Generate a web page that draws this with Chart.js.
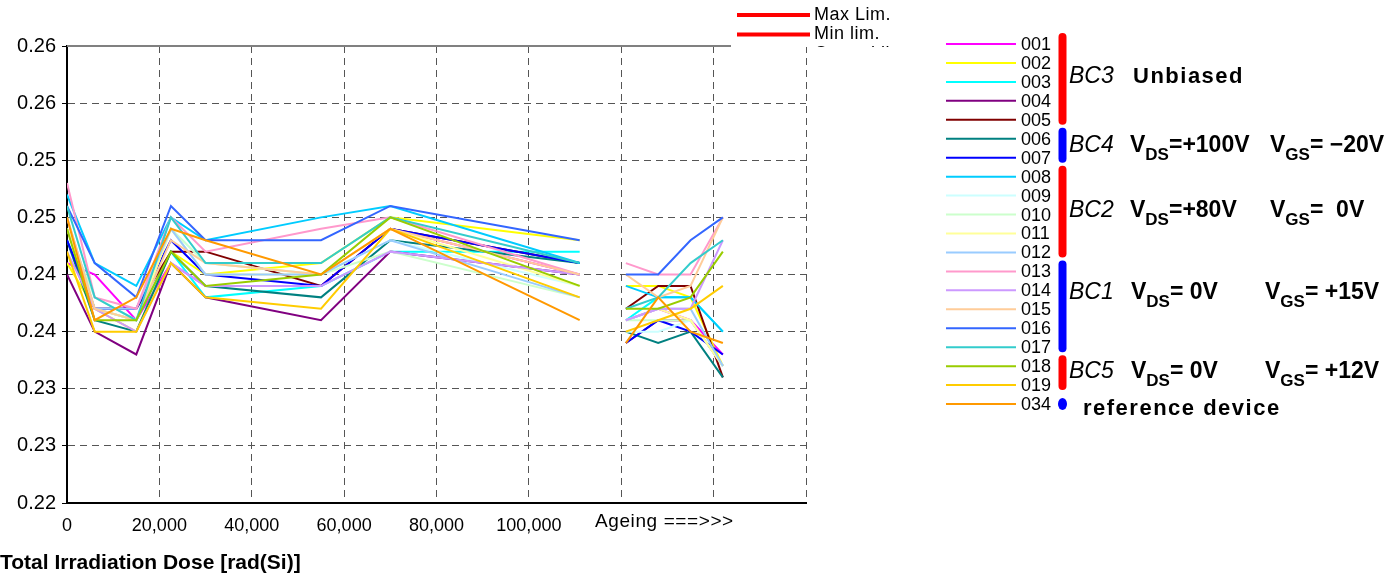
<!DOCTYPE html>
<html lang="en">
<head>
<meta charset="utf-8">
<title>Vth drift vs total dose</title>
<script src="https://cdn.jsdelivr.net/npm/chart.js@4.4.1/dist/chart.umd.min.js"></script>
<style>
  html, body { margin: 0; padding: 0; background: #fff; }
</style>
</head>
<body>
<canvas id="myChart" width="1395" height="575"></canvas>
<script>

// dose steps [rad(Si)] and the ageing readouts after irradiation
var doseX   = [0, 6000, 15000, 22500, 30000, 55000, 70000, 111000];
var ageingX = [121000, 128000, 135000, 142000];

var devices = ['001','002','003','004','005','006','007','008','009','010',
               '011','012','013','014','015','016','017','018','019','034'];

var colors  = ['#FF00FF','#FFFF00','#00FFFF','#800080','#800000','#008080','#0000FF','#00CCFF','#CCFFFF','#CCFFCC',
               '#FFFF99','#99CCFF','#FF99CC','#CC99FF','#FFCC99','#3366FF','#33CCCC','#99CC00','#FFCC00','#FF9900'];

// first 8 values = dose steps, last 4 = ageing
var d001 = [0.241, 0.240, 0.236, 0.241, 0.239, 0.239, 0.244, 0.240,  0.236, 0.237, 0.236, 0.233];
var d002 = [0.241, 0.237, 0.235, 0.242, 0.240, 0.241, 0.245, 0.243,  0.239, 0.239, 0.238, 0.232];
var d003 = [0.243, 0.237, 0.236, 0.242, 0.238, 0.239, 0.242, 0.242,  0.236, 0.238, 0.238, 0.235];
var d004 = [0.240, 0.235, 0.233, 0.241, 0.238, 0.236, 0.242, 0.240,  0.234, 0.236, 0.236, 0.232];
var d005 = [0.244, 0.237, 0.237, 0.242, 0.242, 0.239, 0.244, 0.241,  0.237, 0.239, 0.239, 0.231];
var d006 = [0.243, 0.236, 0.235, 0.242, 0.239, 0.238, 0.243, 0.241,  0.235, 0.234, 0.235, 0.231];
var d007 = [0.243, 0.237, 0.237, 0.243, 0.240, 0.239, 0.244, 0.241,  0.234, 0.236, 0.235, 0.233];
var d008 = [0.247, 0.241, 0.239, 0.245, 0.243, 0.245, 0.246, 0.241,  0.239, 0.238, 0.238, 0.235];
var d009 = [0.244, 0.238, 0.236, 0.244, 0.241, 0.240, 0.243, 0.239,  0.235, 0.235, 0.236, 0.232];
var d010 = [0.244, 0.238, 0.236, 0.244, 0.241, 0.240, 0.242, 0.238,  0.236, 0.236, 0.236, 0.232];
var d011 = [0.244, 0.237, 0.236, 0.244, 0.240, 0.240, 0.244, 0.239,  0.236, 0.237, 0.236, 0.232];
var d012 = [0.245, 0.237, 0.237, 0.244, 0.240, 0.240, 0.243, 0.238,  0.236, 0.237, 0.237, 0.232];
var d013 = [0.248, 0.238, 0.237, 0.245, 0.242, 0.244, 0.245, 0.240,  0.241, 0.240, 0.240, 0.245];
var d014 = [0.242, 0.237, 0.235, 0.241, 0.239, 0.239, 0.242, 0.240,  0.236, 0.237, 0.237, 0.243];
var d015 = [0.245, 0.237, 0.236, 0.243, 0.241, 0.240, 0.244, 0.240,  0.240, 0.238, 0.239, 0.245];
var d016 = [0.246, 0.241, 0.238, 0.246, 0.243, 0.243, 0.246, 0.243,  0.240, 0.240, 0.243, 0.245];
var d017 = [0.246, 0.238, 0.236, 0.245, 0.241, 0.241, 0.245, 0.241,  0.237, 0.238, 0.241, 0.243];
var d018 = [0.244, 0.236, 0.236, 0.242, 0.239, 0.240, 0.245, 0.239,  0.237, 0.237, 0.238, 0.242];
var d019 = [0.242, 0.235, 0.235, 0.241, 0.238, 0.237, 0.244, 0.238,  0.235, 0.236, 0.237, 0.239];
var d034 = [0.245, 0.236, 0.238, 0.244, 0.243, 0.240, 0.244, 0.236,  0.234, 0.238, 0.235, 0.234];

var series = [d001,d002,d003,d004,d005,d006,d007,d008,d009,d010,
              d011,d012,d013,d014,d015,d016,d017,d018,d019,d034];

var yTickLabels = ['0.22','0.23','0.23','0.24','0.24','0.25','0.25','0.26','0.26'];
var xTickLabels = ['0','20,000','40,000','60,000','80,000','100,000','','',''];

// bias groups: first/last device index in the legend
var groups = [
  { name: 'BC3', from: 0,  to: 4,  color: '#FF0000' },
  { name: 'BC4', from: 5,  to: 6,  color: '#0000FF' },
  { name: 'BC2', from: 7,  to: 11, color: '#FF0000' },
  { name: 'BC1', from: 12, to: 16, color: '#0000FF' },
  { name: 'BC5', from: 17, to: 18, color: '#FF0000' }
];

var FONT = '"Liberation Sans", Arial, sans-serif';

function buildData(vals) {
  var pts = [];
  for (var i = 0; i < doseX.length; i++) pts.push({ x: doseX[i], y: vals[i] });
  pts.push({ x: 116000, y: null });   // break between irradiation and ageing
  for (var j = 0; j < ageingX.length; j++) pts.push({ x: ageingX[j], y: vals[doseX.length + j] });
  return pts;
}

var datasets = [];
for (var k = 0; k < devices.length; k++) {
  datasets.push({
    label: devices[k],
    data: buildData(series[k]),
    borderColor: colors[k],
    backgroundColor: colors[k],
    borderWidth: 2,
    pointRadius: 0,
    tension: 0,
    fill: false,
    order: devices.length - k
  });
}

// text, legends, top border
var decorations = {
  id: 'decorations',
  afterDraw: function(chart) {
    var ctx = chart.ctx;
    var area = chart.chartArea;
    ctx.save();

    // solid top border of the plot
    ctx.strokeStyle = '#808080';
    ctx.lineWidth = 2;
    ctx.beginPath();
    ctx.moveTo(area.left, area.top);
    ctx.lineTo(area.right, area.top);
    ctx.stroke();

    // axis title and ageing marker
    ctx.fillStyle = '#000';
    ctx.textBaseline = 'middle';
    ctx.textAlign = 'left';
    ctx.font = 'bold 21px ' + FONT;
    ctx.fillText('Total Irradiation Dose [rad(Si)]', 0, 563);
    ctx.font = '19px ' + FONT;
    ctx.letterSpacing = '0.6px';
    ctx.fillText('Ageing ===>>>', 595, 522);
    ctx.letterSpacing = '0px';

    // limits legend box, cut off at the plot top
    ctx.save();
    ctx.beginPath();
    ctx.rect(731, 0, 180, 47);
    ctx.clip();
    ctx.fillStyle = '#fff';
    ctx.fillRect(731, 0, 180, 47);
    var lim = ['Max Lim.', 'Min lim.', 'Control lim.'];
    for (var m = 0; m < lim.length; m++) {
      var ly = 15 + m * 19.4;
      ctx.strokeStyle = '#FF0000';
      ctx.lineWidth = 4;
      ctx.beginPath();
      ctx.moveTo(737, ly);
      ctx.lineTo(810, ly);
      ctx.stroke();
      ctx.fillStyle = '#000';
      ctx.font = '18px ' + FONT;
      ctx.letterSpacing = '0.5px';
      ctx.fillText(lim[m], 814, ly);
      ctx.letterSpacing = '0px';
    }
    ctx.restore();

    // device legend
    function rowY(i) { return 44 + i * 18.95; }
    ctx.font = '18px ' + FONT;
    for (var i = 0; i < devices.length; i++) {
      var y = rowY(i);
      ctx.strokeStyle = colors[i];
      ctx.lineWidth = 2;
      ctx.beginPath();
      ctx.moveTo(946, y);
      ctx.lineTo(1016, y);
      ctx.stroke();
      ctx.fillStyle = '#000';
      ctx.fillText(devices[i], 1021, y + 1);
    }

    // group bars
    ctx.lineCap = 'round';
    ctx.lineWidth = 8;
    for (var g = 0; g < groups.length; g++) {
      ctx.strokeStyle = groups[g].color;
      ctx.beginPath();
      ctx.moveTo(1062.5, rowY(groups[g].from) - 7);
      ctx.lineTo(1062.5, rowY(groups[g].to) + 1);
      ctx.stroke();
    }
    ctx.fillStyle = '#0000FF';
    ctx.beginPath();
    ctx.ellipse(1062.5, rowY(19), 4.5, 6, 0, 0, Math.PI * 2);
    ctx.fill();

    // bias conditions
    ctx.fillStyle = '#000';
    ctx.textBaseline = 'alphabetic';
    function bias(x, base, sub, rest) {
      ctx.font = 'bold 23px ' + FONT;
      ctx.fillText('V', x, base);
      var w = ctx.measureText('V').width;
      ctx.font = 'bold 17px ' + FONT;
      ctx.fillText(sub, x + w, base + 8);
      var w2 = ctx.measureText(sub).width;
      ctx.font = 'bold 23px ' + FONT;
      ctx.fillText(rest, x + w + w2, base);
    }
    var labelBase = [83, 152, 217, 299, 378];
    for (var b = 0; b < groups.length; b++) {
      ctx.font = 'italic 23px ' + FONT;
      ctx.fillText(groups[b].name, 1069, labelBase[b]);
    }
    ctx.font = 'bold 22px ' + FONT;
    ctx.letterSpacing = '1.5px';
    ctx.fillText('Unbiased', 1133, 83);
    ctx.fillText('reference device', 1083, 415);
    ctx.letterSpacing = '0px';

    bias(1130, 152, 'DS', '=+100V');
    bias(1270, 152, 'GS', '= \u221220V');
    bias(1130, 217, 'DS', '=+80V');
    bias(1270, 217, 'GS', '=  0V');
    bias(1131, 299, 'DS', '= 0V');
    bias(1265, 299, 'GS', '= +15V');
    bias(1131, 378, 'DS', '= 0V');
    bias(1265, 378, 'GS', '= +12V');

    ctx.restore();
  }
};

var ctx = document.getElementById('myChart');
var myChart = new Chart(ctx, {
  type: 'line',
  data: { datasets: datasets },
  plugins: [decorations],
  options: {
    responsive: false,
    animation: false,
    devicePixelRatio: 1,
    layout: { padding: { left: 0, top: 46, right: 589, bottom: 0 } },
    plugins: { legend: { display: false }, tooltip: { enabled: false } },
    scales: {
      x: {
        type: 'linear',
        min: 0,
        max: 160000,
        afterFit: function(scale) { scale.height = 72; },
        ticks: {
          stepSize: 20000,
          autoSkip: false,
          maxRotation: 0,
          padding: 12,
          color: '#000',
          font: { family: FONT, size: 18 },
          callback: function(v, i) { return xTickLabels[i]; }
        },
        grid: { color: '#555', lineWidth: 1, drawTicks: false },
        border: { display: true, color: '#000', width: 2, dash: [7, 5] }
      },
      y: {
        min: 0.22,
        max: 0.26,
        afterFit: function(scale) { scale.width = 67; },
        ticks: {
          stepSize: 0.005,
          padding: 6,
          color: '#000',
          font: { family: FONT, size: 20 },
          callback: function(v, i) { return yTickLabels[i]; }
        },
        grid: { color: '#555', lineWidth: 1, tickColor: '#000', tickLength: 5 },
        border: { display: true, color: '#000', width: 2, dash: [7, 5] }
      }
    }
  }
});
</script>
</body>
</html>
